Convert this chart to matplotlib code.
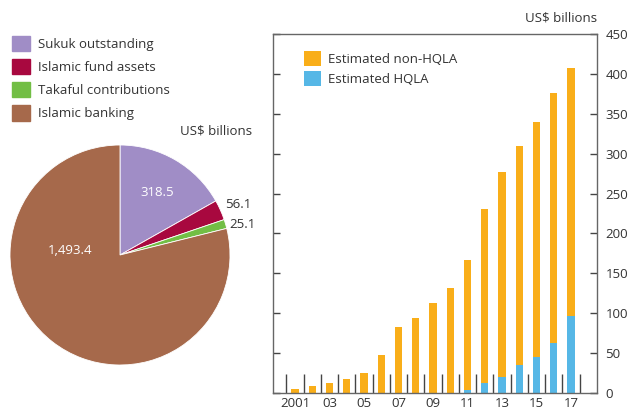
import numpy as np
import matplotlib
matplotlib.use('Agg')
import matplotlib.pyplot as plt
from matplotlib.patches import Patch

plt.rcParams['font.family'] = ['Open Sans', 'DejaVu Sans']
TXT = '#333333'

# ── data ──────────────────────────────────────────────────────────────────────
pie_labels = ['Sukuk outstanding', 'Islamic fund assets', 'Takaful contributions', 'Islamic banking']
pie_values = [318.5, 56.1, 25.1, 1493.4]
pie_colors = ['#A08DC6', '#A8083F', '#72BE45', '#A6694B']

years = list(range(2001, 2018))
hqla = [0, 0, 0, 0, 0, 0, 0, 0, 0, 0, 4, 12.5, 20, 35, 45, 63, 96]
total = [4.6, 8.4, 12.2, 17.2, 24.8, 47.5, 82.8, 94, 113, 131.5, 167, 231, 277.5, 309, 339.5, 376, 407]
non_hqla = [t - h for t, h in zip(total, hqla)]
tick_years = [2001, 2003, 2005, 2007, 2009, 2011, 2013, 2015, 2017]
tick_labels = ['2001', '03', '05', '07', '09', '11', '13', '15', '17']

fig = plt.figure(figsize=(6.3, 4.12), dpi=100)

# ── pie ───────────────────────────────────────────────────────────────────────
axp = fig.add_axes([10/630, 1 - 365/412, 220/630, 220/412])
wedges, _ = axp.pie(pie_values, colors=pie_colors, startangle=90, counterclock=False,
                    radius=1, wedgeprops=dict(linewidth=0.6, edgecolor='white'))
axp.set_xlim(-1, 1); axp.set_ylim(-1, 1)
axp.set_aspect('equal')
axp.text(0.34, 0.57, '318.5', color='white', fontsize=9.5, ha='center', va='center')
axp.text(0.955, 0.455, '56.1', color=TXT, fontsize=9.5, ha='left', va='center')
axp.text(0.99, 0.28, '25.1', color=TXT, fontsize=9.5, ha='left', va='center')
axp.text(-0.455, 0.045, '1,493.4', color='white', fontsize=9.5, ha='center', va='center')
fig.text(252/630, 1 - 131/412, 'US$ billions', color=TXT, fontsize=9.5, ha='right', va='center')

fig.legend([Patch(color=c) for c in pie_colors], pie_labels, loc='upper left',
           bbox_to_anchor=(0.0, 1 - 24/412), frameon=False, fontsize=9.5,
           handlelength=1.4, handleheight=1.4, handletextpad=0.6, labelspacing=0.6,
           labelcolor=TXT)

# ── bars ──────────────────────────────────────────────────────────────────────
ax = fig.add_axes([273/630, 1 - 393/412, 324/630, 359/412])
ax.bar(years, hqla, width=0.42, color='#56B7E6', label='Estimated HQLA', zorder=2)
ax.bar(years, non_hqla, width=0.42, bottom=hqla, color='#F9AE19',
       label='Estimated non-HQLA', zorder=2)
ax.set_xlim(2001 - 1.28, 2017 + 1.5)
ax.set_ylim(0, 450)

for s in ax.spines.values():
    s.set_color('#666666'); s.set_linewidth(1.0)

ax.yaxis.tick_right()
ax.set_yticks(range(0, 451, 50))
ax.tick_params(axis='y', which='major', direction='in', length=5, width=1,
               color='#444444', left=True, right=True, labelright=True, labelleft=False,
               labelsize=9.5, labelcolor=TXT, pad=6)
ax.set_xticks(tick_years)
ax.set_xticklabels(tick_labels)
ax.set_xticks([y - 0.5 for y in years] + [2017.5], minor=True)
ax.tick_params(axis='x', which='major', length=0, labelsize=9.5, labelcolor=TXT, pad=3)
ax.tick_params(axis='x', which='minor', direction='in', length=14, width=1, color='#444444')

h, l = ax.get_legend_handles_labels()
ax.legend(h[::-1], l[::-1], loc='upper left', bbox_to_anchor=(0.06, 0.985), frameon=False,
          fontsize=9.5, handlelength=1.3, handleheight=1.3, handletextpad=0.5,
          labelspacing=0.4, labelcolor=TXT)
fig.text(597/630, 1 - 18/412, 'US$ billions', color=TXT, fontsize=9.5, ha='right', va='center')

fig.savefig('out.png', dpi=100)
